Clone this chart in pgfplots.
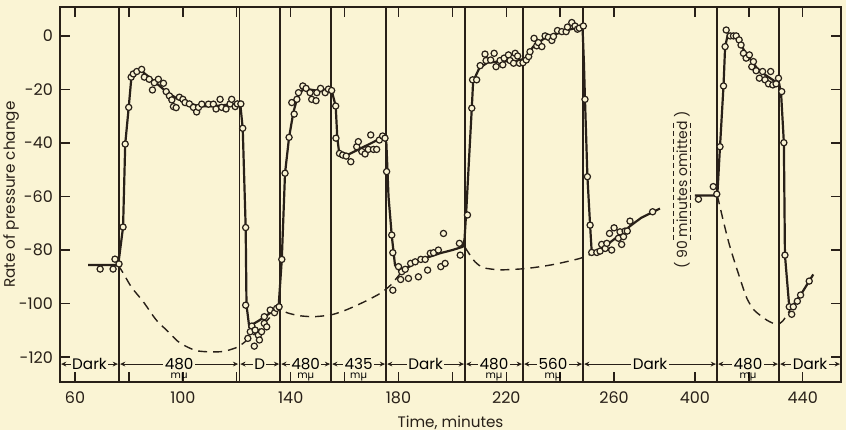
\documentclass[border=0pt]{standalone}
\usepackage{fontspec}
\setmainfont{Poppins}
\usepackage{pgfplots}
\pgfplotsset{compat=1.18}
\usetikzlibrary{calc,arrows.meta,backgrounds}
\definecolor{paper}{RGB}{250,244,212}
\definecolor{ink}{RGB}{40,32,24}

% band label under the curves: left edge, right edge, text, unit
\newcommand{\band}[4]{%
  \draw[ink, line width=0.5pt, {Stealth[length=2.6pt,width=2.4pt]}-{Stealth[length=2.6pt,width=2.4pt]}]
    (axis cs:{#1+0.4},-122.6) -- (axis cs:{#2-0.4},-122.6);
  \node[fill=paper, inner xsep=0.7pt, inner ysep=0pt, font=\fontsize{7.6}{8}\selectfont]
    at (axis cs:{(#1+#2)/2},-122.6) {#3};
  \node[inner sep=0pt, font=\fontsize{5}{6}\selectfont]
    at (axis cs:{(#1+#2)/2},-127.4) {#4};
}

\begin{document}
\begin{tikzpicture}
\begin{axis}[
    scale only axis,
    width=390.5pt, height=187.5pt,
    xmin=54.4, xmax=344.2, ymin=-129.3, ymax=10.8,
    axis line style={ink, line width=1pt},
    tick style={ink, line width=0.7pt},
    tick align=inside,
    major tick length=5pt, minor tick length=5pt,
    xtick={60,100,140,180,220,260,290,330},
    xticklabels={60,100,140,180,220,260,400,440},
    minor xtick={80,120,160,200,240,310},
    ytick={-120,-100,-80,-60,-40,-20,0},
    yticklabels={-120,-100,-80,-60,-40,-20,0},
    ticklabel style={font=\fontsize{8}{9}\selectfont, text=ink},
    xticklabel style={yshift=-1.5pt},
    xlabel={Time, minutes},
    ylabel={Rate of pressure change},
    label style={font=\fontsize{7.6}{9}\selectfont, text=ink},
    xlabel style={yshift=1pt},
    ylabel style={at={(axis description cs:-0.0627,0.5)}, anchor=center},
    % the 90 minutes left out: times after 300 are drawn 110 to the left
    x filter/.expression={x>300 ? x-110 : x},
    clip=false,
]
\coordinate (ll) at (rel axis cs:0,0);
\coordinate (ur) at (rel axis cs:1,1);

% light periods
\pgfplotsinvokeforeach{76.3,120.9,136.1,155.0,175.4,204.7,226.2,248.5,298.2,321.2}{
  \draw[ink, line width=0.7pt] (axis cs:#1,-129.3) -- (axis cs:#1,10.8);
}

% dark baseline
\addplot[ink, line width=0.7pt, dash pattern=on 4.5pt off 3pt, smooth, tension=0.4] coordinates {
(76.0,-85.6) (77.9,-88.7) (81,-94) (85.3,-99.3) (90,-106) (94,-110) (98,-114) (101.4,-116.1)
(105,-117.6) (109,-118) (113.8,-118) (117,-117.4) (120.6,-116.1) (124,-113.5) (128,-110)
(132,-105.5) (135.4,-101.8) (138.6,-103.4) (143,-104.5) (148.4,-104.9) (154.6,-104.3)
(159,-103) (163.3,-101.2) (168,-99) (173.2,-96.2) (177,-93.2) (180.5,-89)
};
\addplot[ink, line width=0.7pt, dash pattern=on 4.5pt off 3pt, smooth, tension=0.4] coordinates {
(204.7,-79) (206.5,-81.8) (208.5,-84.5) (211.5,-86.6) (217.7,-87.4) (226.3,-87)
(232,-86.3) (237.5,-85.4) (243,-84.2) (247.4,-83.1) (252.3,-81.2)
};
\addplot[ink, line width=0.7pt, dash pattern=on 4.5pt off 3pt, smooth, tension=0.4] coordinates {
(408.3,-59.6) (410.6,-69.4) (412.5,-77) (414.3,-83.1) (417,-91.5) (419.3,-98.1)
(422,-102.5) (426.7,-106.2) (430.4,-107.8) (432.6,-106.5) (435.3,-102.4)
};

% fitted curve
\addplot[ink, line width=1.1pt] coordinates {
(64.8,-85.6) (76.0,-85.6) (77.8,-71.4) (78.6,-40.4) (79.9,-26.7) (80.8,-16.5) (82,-14.5)
(84.5,-13) (87,-15) (90,-17.5) (94,-21) (98,-23.5) (102,-25) (106,-26.3) (110,-26.3)
(114,-26) (118,-25.5) (121.3,-25.5) (122.2,-34.5) (123.3,-71.6) (123.6,-100.6) (124.6,-108.5)
(128,-106.5) (132,-103.8) (135.5,-101.4) (136.7,-83.5) (137.9,-51.3) (139.4,-37.9) (141,-28.5)
(142.5,-23) (144.5,-20) (147,-20) (150,-20.5) (153,-20) (155.2,-20.4) (156.7,-26.2)
(157.3,-38.2) (158.1,-44.5) (160,-45) (163,-43.5) (166,-42) (170,-40) (174.7,-37.6)
(175.5,-40) (176.3,-60) (177.5,-74.6) (178.7,-85.6) (180.6,-88) (184,-86.2) (188,-83.7)
(195.4,-81.2) (200,-80) (203.8,-78.8) (204.5,-76) (205.1,-66.3) (206.5,-40) (207.2,-27)
(207.7,-17) (210,-12) (213,-10) (218,-9.5) (223,-9.5) (227,-8.5) (230,-4) (234,-1)
(238,0.5) (242,2) (246,3) (248.3,3) (248.8,-10) (249.2,-23.7) (250.1,-52.6) (251.1,-70.7)
(251.7,-80.9) (254,-80.5) (258,-77.5) (262,-74.5) (266,-71) (270,-68) (274,-66) (277,-64.5)
};
\addplot[ink, line width=1.1pt] coordinates {
(400,-59.6) (408.3,-59.6) (409.3,-41.4) (410.6,-18.7) (411.2,-4) (412.2,0.5) (414,0.5)
(416,-1) (418,-5) (420,-8) (423,-12) (426,-14.5) (429,-16.5) (431.3,-18) (432,-22)
(433,-40) (433.4,-81.9) (435,-101.2) (436.5,-100.5) (438,-98.5) (440,-95.5) (442.4,-91.6)
(443.9,-89.1)
};

% observations
\addplot[only marks, mark=*, mark size=1.55pt,
  mark options={fill=paper, draw=ink, line width=0.6pt}] coordinates {
(69.3,-87.1) (74.1,-87.1) (74.8,-83.4) (76.3,-85.2) (77.8,-71.4)
(78.6,-40.4) (79.9,-26.7) (80.8,-15.4) (81.6,-14.2) (82.9,-13.3) (84.7,-12.5) (85.7,-15.4)
(87.5,-16.2) (88.7,-20.2) (89.4,-17.5) (90.9,-16.2) (92.8,-17.7) (93.8,-20.8) (95.0,-22.4)
(95.9,-23.9) (96.5,-26.4) (97.5,-26.8) (98.7,-22.9) (100.0,-23.7) (100.8,-24.9) (102.4,-25.4)
(103.9,-26.7) (105.1,-28.4) (105.8,-26.7) (107,-25.5) (109.5,-25.5) (111.3,-25.5) (112.3,-27.3)
(113.8,-23.7) (114.4,-26.7) (116,-27.3) (117.5,-25.4) (118.1,-23.7) (119.4,-26.4) (120.2,-25.4)
(121.5,-25.4) (122.2,-34.5)
(123.3,-71.6) (123.3,-100.6) (125.6,-108.4) (125,-110.5) (126.8,-109.9) (124.1,-113)
(128,-111.8) (126.5,-115.9) (128.4,-113.6) (129.2,-110.5) (130.2,-107.4) (131.1,-108.7)
(130.2,-104.9) (132.4,-102.4) (134,-103.4) (134.8,-101.8) (135.7,-101.2)
(136.7,-83.5) (137.9,-51.3) (139.4,-37.9) (141.3,-29.2) (140.4,-24.9) (142.3,-23.7) (142.9,-21.2)
(144.5,-18.7) (145.7,-19.6) (147.2,-21.2) (147.8,-23.7) (149.4,-24.2) (149.7,-21.2) (151.1,-19.6)
(152.8,-21.2) (154,-19.9) (155.2,-20.4) (156.7,-26.2)
(156.8,-38.2) (158.1,-43.9) (159.3,-44.5) (160.6,-44.9) (162.3,-47) (164.5,-41.4) (165.1,-39.5)
(166.4,-43.2) (167.6,-44.1) (168.8,-42.4) (169.7,-37) (170.7,-42.4) (171.9,-42.4) (172.9,-38.9)
(174.1,-37.4) (175,-38.2) (175.6,-50.7)
(177.5,-74.4) (177.9,-81) (180,-86.2) (181.2,-88.1) (182.5,-87.2) (180.8,-91) (177.9,-95)
(183.7,-90.6) (184.5,-85) (186.2,-84.4) (187.4,-90) (188.3,-83.5) (189.9,-83.5) (190.8,-87.5)
(191.8,-81.2) (193,-81) (194.8,-80) (195.7,-86.2) (197.3,-85) (196.7,-73.8) (202.6,-77.5)
(202.9,-81.9) (205.6,-66.9)
(207.2,-27) (207.5,-16.4) (209,-16.4) (210.3,-11.1) (212.1,-6.8) (212.5,-9.2) (214.2,-9)
(215.5,-6.5) (216.2,-11.5) (217.7,-9.2) (218.7,-10.8) (219.2,-8.3) (220.8,-7.1) (221.4,-9.2)
(222.7,-10.2) (223.3,-6.5) (224.2,-7.5) (224.9,-10.2) (226.2,-10)
(227.4,-9) (228.3,-7.7) (228.8,-5.9) (230.3,-0.9) (231.3,-3.7) (231.9,-2.5) (233.2,-4)
(234.4,0) (235.6,-0.5) (236.9,-1.7) (237.5,-0.2) (239,2) (240.6,1.6) (242.2,1.6) (242.7,3.3)
(244.3,5) (245.5,3.7) (246.4,2.5) (247.1,2.9) (248.6,3.7)
(249.2,-23.7) (250.1,-52.6) (251.1,-70.7)
(251.7,-80.9) (253.6,-80.9) (254.8,-80.4) (255.4,-77.9) (256.7,-79.4) (257.3,-77.5) (258.3,-73.8)
(259.1,-80) (260,-71.7) (261.6,-75.6) (262.2,-73.2) (262.8,-77.9) (263.5,-75) (264.1,-72.9)
(264.9,-72.9) (265.9,-69.2) (274.3,-65.7)
(401.3,-61) (406.8,-56.3) (408.1,-59.1) (409.3,-41.4) (410.6,-18.7) (411.2,-4) (411.6,2.2)
(413.1,0) (414.3,0) (415.3,0) (416.4,-1.5) (417.1,-3.4) (418,-6.5) (419,-8.3) (420.2,-7.1)
(421.1,-11.5) (421.7,-9.6) (422.7,-13) (423.9,-15.8) (425.1,-13.3) (426,-16.4) (427.3,-17.9)
(428.1,-13.3) (428.9,-18.3) (430.1,-17.9) (431,-15.8) (432.2,-20.8) (433,-39.9) (433.4,-81.9)
(435,-101.2) (435.9,-104) (436.5,-101.2) (438,-99.1) (439.2,-96.8) (442.4,-91.6)
};

% period labels
\band{54.4}{76.3}{Dark}{}
\band{76.3}{120.9}{480}{mµ}
\band{120.9}{136.1}{D}{}
\band{136.1}{155.0}{480}{mµ}
\band{155.0}{175.4}{435}{mµ}
\band{175.4}{204.7}{Dark}{}
\band{204.7}{226.2}{480}{mµ}
\band{226.2}{248.5}{560}{mµ}
\band{248.5}{298.2}{Dark}{}
\band{298.2}{321.2}{480}{mµ}
\band{321.2}{344.2}{Dark}{}

% gap note
\node[rotate=90, text=ink, inner sep=0pt, font=\fontsize{7}{8}\selectfont] at (axis cs:285.2,-57.6)
  {( 90 minutes omitted )};
\draw[ink, line width=0.5pt, dash pattern=on 2.5pt off 1.5pt] (axis cs:282.2,-32.5) -- (axis cs:282.2,-77);
\draw[ink, line width=0.5pt, dash pattern=on 2.5pt off 1.5pt] (axis cs:288.2,-32.5) -- (axis cs:288.2,-77);
\end{axis}
\pgfresetboundingbox
\path ($(ll)+(-30pt,-24pt)$) coordinate (bl) rectangle ($(ur)+(2.5pt,3.5pt)$) coordinate (tr);
\begin{pgfonlayer}{background}
  \fill[paper] (bl) rectangle (tr);
\end{pgfonlayer}
\end{tikzpicture}
\end{document}
